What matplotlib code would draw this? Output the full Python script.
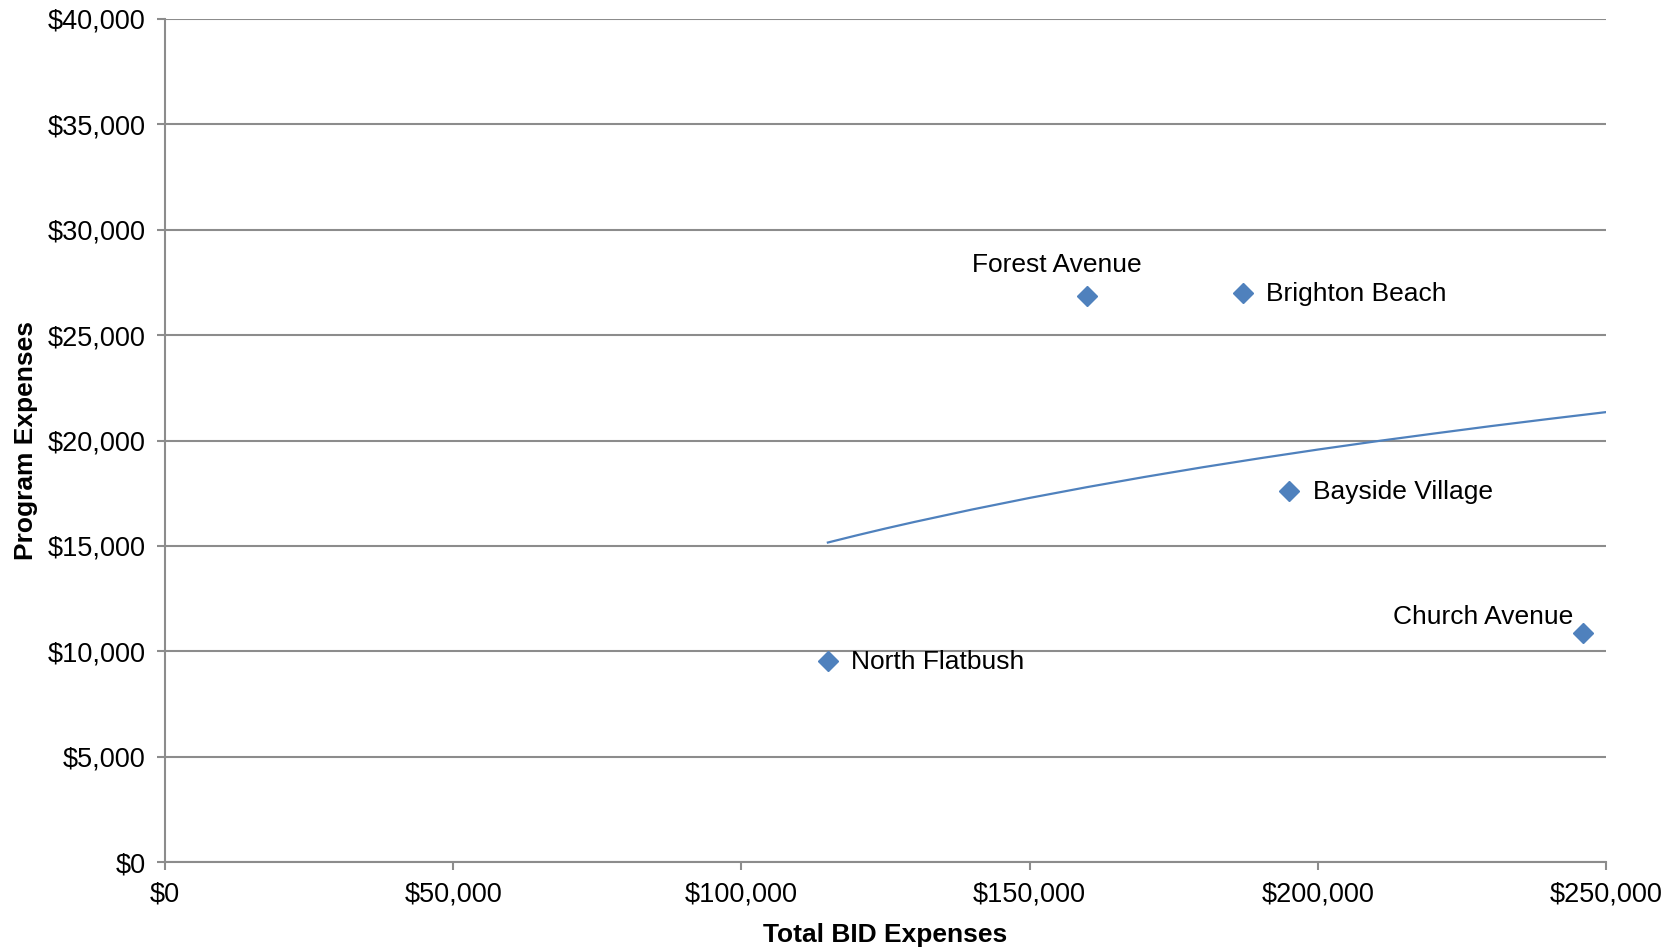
import matplotlib
matplotlib.use("Agg")
import matplotlib.pyplot as plt
from matplotlib.ticker import FuncFormatter

plt.rcParams["font.family"] = ["Liberation Sans", "DejaVu Sans"]

# BID data
bids = ["Forest Avenue", "Brighton Beach", "Bayside Village", "Church Avenue", "North Flatbush"]
total_expenses = [160000, 187000, 195000, 246000, 115000]
program_expenses = [26850, 27000, 17600, 10850, 9550]

# trendline
trend_x = [115000, 120000, 125000, 130000, 140000, 150000, 160000, 170000, 180000,
           190000, 200000, 211000, 220000, 230000, 240000, 250000]
trend_y = [15160, 15500, 15825, 16135, 16725, 17276, 17790, 18273, 18730,
           19160, 19570, 19996, 20325, 20682, 21020, 21347]

x_ticks = [0, 50000, 100000, 150000, 200000, 250000]
y_ticks = [0, 5000, 10000, 15000, 20000, 25000, 30000, 35000, 40000]

BLUE = "#4F81BD"
GRID = "#8C8C8C"

fig = plt.figure(figsize=(16.79, 9.50), dpi=100)
ax = fig.add_axes([0.0983, 0.0926, 0.8582, 0.8874])

ax.plot(trend_x, trend_y, color=BLUE, lw=1.6, zorder=3)
ax.plot(total_expenses, program_expenses, ls="none", marker="D", ms=10,
        color=BLUE, mec=BLUE, zorder=4)

# label placement per point: (dx, dy) in points, ha, va
placements = {
    "Forest Avenue": (-22, 14, "center", "bottom"),
    "Brighton Beach": (17, -1, "left", "center"),
    "Bayside Village": (17, -1, "left", "center"),
    "Church Avenue": (-7, 3, "right", "bottom"),
    "North Flatbush": (17, -1, "left", "center"),
}
for name, x, y in zip(bids, total_expenses, program_expenses):
    dx, dy, ha, va = placements[name]
    ax.annotate(name, (x, y), xytext=(dx, dy), textcoords="offset points",
                ha=ha, va=va, fontsize=19, color="black")

ax.set_xlim(0, 250000)
ax.set_ylim(0, 40000)
ax.set_xticks(x_ticks)
ax.set_yticks(y_ticks)
money = FuncFormatter(lambda v, p: f"${v:,.0f}")
ax.xaxis.set_major_formatter(money)
ax.yaxis.set_major_formatter(money)

ax.grid(axis="y", color=GRID, lw=1.5)
ax.set_axisbelow(True)
for s in ["top", "right"]:
    ax.spines[s].set_visible(False)
for s in ["left", "bottom"]:
    ax.spines[s].set_color(GRID)
    ax.spines[s].set_linewidth(1.5)
ax.tick_params(axis="both", direction="out", length=6, width=1.5, color=GRID,
               labelsize=19.5, labelcolor="black")
ax.tick_params(axis="y", pad=8)
ax.tick_params(axis="x", pad=8)

ax.set_xlabel("Total BID Expenses", fontsize=19, fontweight="bold", labelpad=11)
ax.set_ylabel("Program Expenses", fontsize=19, fontweight="bold", labelpad=7)

fig.savefig("out.png", dpi=100)
